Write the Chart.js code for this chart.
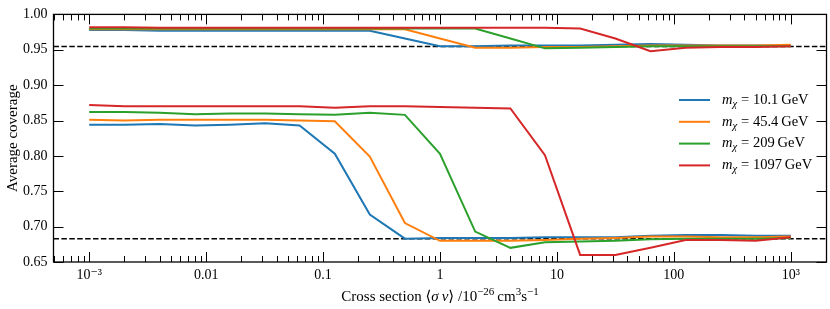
<!DOCTYPE html>
<html>
<head>
<meta charset="utf-8">
<script src="https://cdn.jsdelivr.net/npm/chart.js@4/dist/chart.umd.min.js"></script>
<style>
  html, body { margin: 0; padding: 0; background: #fff; }
  #wrap { width: 830px; height: 309px; }
</style>
</head>
<body>
<div id="wrap"><canvas id="chart"></canvas></div>
<script>
// annihilation cross section grid, in units of 1e-26 cm^3/s
const crossSection = [0.001, 0.002, 0.004, 0.008, 0.016, 0.032, 0.063, 0.126, 0.251, 0.501,
  1, 2, 4, 7.9, 15.8, 31.6, 63.1, 126, 251, 501, 1000];

const masses = ['10.1', '45.4', '209', '1097'];
const colors = ['#1f77b4', '#ff7f0e', '#2ca02c', '#d62728'];

// 2 sigma coverage
const cov2Blue   = [0.978, 0.978, 0.977, 0.977, 0.977, 0.977, 0.977, 0.977, 0.977, 0.966, 0.955, 0.955, 0.956, 0.956, 0.956, 0.957, 0.958, 0.957, 0.956, 0.956, 0.956];
const cov2Orange = [0.979, 0.979, 0.979, 0.979, 0.979, 0.979, 0.979, 0.979, 0.979, 0.979, 0.966, 0.953, 0.953, 0.954, 0.954, 0.955, 0.956, 0.956, 0.956, 0.956, 0.957];
const cov2Green  = [0.980, 0.980, 0.980, 0.980, 0.980, 0.980, 0.980, 0.980, 0.980, 0.980, 0.980, 0.980, 0.966, 0.952, 0.953, 0.954, 0.955, 0.955, 0.955, 0.955, 0.955];
const cov2Red    = [0.982, 0.982, 0.981, 0.981, 0.981, 0.981, 0.981, 0.981, 0.981, 0.981, 0.981, 0.981, 0.981, 0.981, 0.980, 0.966, 0.948, 0.953, 0.954, 0.954, 0.955];

// 1 sigma coverage
const cov1Blue   = [0.844, 0.844, 0.845, 0.843, 0.844, 0.846, 0.843, 0.803, 0.717, 0.683, 0.684, 0.684, 0.684, 0.685, 0.685, 0.685, 0.687, 0.688, 0.688, 0.687, 0.687];
const cov1Orange = [0.851, 0.850, 0.851, 0.851, 0.851, 0.851, 0.850, 0.849, 0.799, 0.705, 0.680, 0.680, 0.680, 0.681, 0.683, 0.684, 0.686, 0.686, 0.685, 0.685, 0.686];
const cov1Green  = [0.862, 0.862, 0.861, 0.859, 0.860, 0.860, 0.859, 0.858, 0.861, 0.858, 0.803, 0.693, 0.670, 0.678, 0.679, 0.680, 0.682, 0.683, 0.683, 0.683, 0.684];
const cov1Red    = [0.872, 0.870, 0.870, 0.870, 0.870, 0.870, 0.870, 0.868, 0.870, 0.870, 0.869, 0.868, 0.867, 0.801, 0.660, 0.660, 0.670, 0.681, 0.681, 0.680, 0.685];

const nominal = [0.9545, 0.6827]; // dashed reference levels

const xMin = 4.95e-4, xMax = 2.02e3;
const yMin = 0.65, yMax = 1.0;
const xTickValues = [0.001, 0.01, 0.1, 1, 10, 100, 1000];
const xTickLabels = ['10\u207B\u00B3', '0.01', '0.1', '1', '10', '100', '10\u00B3'];

const FONT = '"Liberation Serif", "DejaVu Serif", serif';

const low = [cov1Blue, cov1Orange, cov1Green, cov1Red];
const high = [cov2Blue, cov2Orange, cov2Green, cov2Red];

const pts = arr => arr.map((y, i) => ({ x: crossSection[i], y }));

const datasets = [];
for (let i = 0; i < 4; i++) {
  [high[i], low[i]].forEach(arr => {
    datasets.push({
      data: pts(arr),
      borderColor: colors[i],
      borderWidth: 2,
      pointRadius: 0,
      tension: 0,
      order: 4 - i,
    });
  });
}
nominal.forEach(v => {
  datasets.push({
    data: [{ x: xMin, y: v }, { x: xMax, y: v }],
    borderColor: '#000',
    borderWidth: 1.5,
    borderDash: [5.5, 2.4],
    pointRadius: 0,
    order: 10,
  });
});

// box, inward ticks, legend and axis titles
const decor = {
  id: 'decor',
  afterDraw(chart) {
    const { ctx, chartArea: a, scales } = chart;
    const xs = scales.x, ys = scales.y;
    ctx.save();
    ctx.strokeStyle = '#000';
    ctx.lineWidth = 1;
    ctx.beginPath();
    for (let e = -4; e <= 3; e++) {
      for (let m = 1; m <= 9; m++) {
        const v = m * Math.pow(10, e);
        if (v < xMin || v > xMax) continue;
        const px = Math.round(xs.getPixelForValue(v)) + 0.5;
        const len = m === 1 ? 10 : 6;
        ctx.moveTo(px, a.bottom); ctx.lineTo(px, a.bottom - len);
        ctx.moveTo(px, a.top); ctx.lineTo(px, a.top + len);
      }
    }
    for (let k = 0; k <= 7; k++) {
      const v = yMin + k * 0.05;
      const py = Math.round(ys.getPixelForValue(v)) + 0.5;
      ctx.moveTo(a.left, py); ctx.lineTo(a.left + 10, py);
      ctx.moveTo(a.right, py); ctx.lineTo(a.right - 10, py);
    }
    ctx.stroke();
    ctx.lineWidth = 1.3;
    ctx.strokeRect(a.left, a.top, a.right - a.left, a.bottom - a.top);

    // legend
    ctx.textBaseline = 'middle';
    ctx.fillStyle = '#000';
    masses.forEach((m, i) => {
      const y = 100 + 21.8 * i;
      ctx.strokeStyle = colors[i];
      ctx.lineWidth = 2;
      ctx.beginPath();
      ctx.moveTo(679, y); ctx.lineTo(710, y);
      ctx.stroke();
      let x = 722;
      ctx.font = 'italic 14.5px ' + FONT;
      ctx.fillText('m', x, y);
      x += ctx.measureText('m').width;
      ctx.font = 'italic 10.5px ' + FONT;
      ctx.fillText('\u03C7', x, y + 4);
      x += ctx.measureText('\u03C7').width + 4;
      ctx.font = '14.5px ' + FONT;
      ctx.fillText('= ' + m + '\u2009GeV', x, y);
    });

    // x title with superscripts
    const parts = [
      ['Cross section \u27E8', '15px', 0],
      ['\u03C3\u2009v', 'italic 15px', 0],
      ['\u27E9 /10', '15px', 0],
      ['\u221226', '11px', -6],
      ['\u2009cm', '15px', 0],
      ['3', '11px', -6],
      ['s', '15px', 0],
      ['\u22121', '11px', -6],
    ];
    let w = 0;
    parts.forEach(p => { ctx.font = p[1] + ' ' + FONT; w += ctx.measureText(p[0]).width; });
    let x = (a.left + a.right) / 2 - w / 2;
    ctx.textBaseline = 'alphabetic';
    parts.forEach(p => {
      ctx.font = p[1] + ' ' + FONT;
      ctx.fillText(p[0], x, 301 + p[2]);
      x += ctx.measureText(p[0]).width;
    });

    // y title
    ctx.translate(13, (a.top + a.bottom) / 2);
    ctx.rotate(-Math.PI / 2);
    ctx.textAlign = 'center';
    ctx.textBaseline = 'middle';
    ctx.font = '15px ' + FONT;
    ctx.fillText('Average coverage', 0, 0);
    ctx.restore();
  }
};

new Chart(document.getElementById('chart'), {
  type: 'line',
  data: { datasets },
  plugins: [decor],
  options: {
    responsive: true,
    maintainAspectRatio: false,
    animation: false,
    layout: { padding: { top: 7.5, right: 3.5, left: 0, bottom: 0 } },
    plugins: { legend: { display: false }, tooltip: { enabled: false } },
    scales: {
      x: {
        type: 'logarithmic',
        min: xMin,
        max: xMax,
        afterBuildTicks: s => { s.ticks = xTickValues.map(v => ({ value: v })); },
        afterFit: s => { s.height = 47; },
        grid: { display: false, drawTicks: false },
        border: { display: false },
        ticks: {
          autoSkip: false,
          maxRotation: 0,
          padding: 5,
          color: '#000',
          font: { family: FONT, size: 14 },
          callback: (v, i) => xTickLabels[i],
        },
      },
      y: {
        min: yMin,
        max: yMax,
        afterFit: s => { s.width = 53.5; },
        grid: { display: false, drawTicks: false },
        border: { display: false },
        ticks: {
          stepSize: 0.05,
          padding: 6,
          color: '#000',
          font: { family: FONT, size: 14 },
          callback: v => v.toFixed(2),
        },
      },
    },
  },
});
</script>
</body>
</html>
